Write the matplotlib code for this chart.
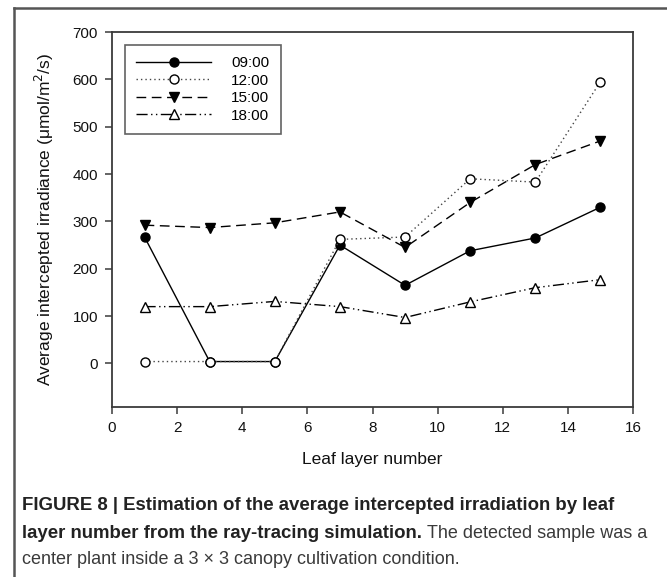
import matplotlib
matplotlib.use("Agg")
import matplotlib.pyplot as plt
from matplotlib.lines import Line2D

plt.rcParams["font.family"] = ["Liberation Sans", "DejaVu Sans"]

# data
leaf_layer = [1, 3, 5, 7, 9, 11, 13, 15]
irr_0900 = [267, 4, 4, 250, 165, 238, 265, 330]
irr_1200 = [4, 4, 4, 262, 267, 390, 383, 595]
irr_1500 = [292, 287, 297, 320, 245, 340, 420, 470]
irr_1800 = [120, 120, 131, 120, 97, 130, 160, 177]
series_labels = ["09:00", "12:00", "15:00", "18:00"]

x_ticks = [0, 2, 4, 6, 8, 10, 12, 14, 16]
y_ticks = [0, 100, 200, 300, 400, 500, 600, 700]

W, H = 667, 577
fig = plt.figure(figsize=(W / 100, H / 100), dpi=100)
ax = fig.add_axes([112 / W, 1 - 407 / H, (633 - 112) / W, (407 - 32) / H])

axis_col = "#3a3a3a"
ms = 6.5
ax.plot(leaf_layer, irr_0900, color="black", lw=1.0, ls="-",
        marker="o", ms=ms, mfc="black", mec="black", label=series_labels[0])
ax.plot(leaf_layer, irr_1200, color="#444444", lw=1.0, ls=(0, (1, 2.2)),
        marker="o", ms=ms, mfc="white", mec="black", mew=1.0, label=series_labels[1])
ax.plot(leaf_layer, irr_1500, color="black", lw=1.0, ls=(0, (7, 4)),
        marker="v", ms=ms + 0.5, mfc="black", mec="black", label=series_labels[2])
ax.plot(leaf_layer, irr_1800, color="black", lw=1.0, ls=(0, (8, 2.5, 1, 2.5, 1, 2.5)),
        marker="^", ms=ms + 0.5, mfc="white", mec="black", mew=1.0, label=series_labels[3])

ax.set_xlim(0, 16)
ax.set_ylim(-92, 700)
ax.set_xticks(x_ticks)
ax.set_yticks(y_ticks)
for sp in ax.spines.values():
    sp.set_color(axis_col)
    sp.set_linewidth(1.3)
ax.tick_params(direction="out", length=5, width=1.1, color=axis_col,
               labelsize=11, labelcolor="#111111", pad=5)

ax.set_xlabel("Leaf layer number", fontsize=12.5, color="#111111", labelpad=12)
ax.set_ylabel("Average intercepted irradiance (\u03bcmol/m$^2$/s)", fontsize=12.5,
              color="#111111", labelpad=12)

leg = ax.legend(loc="upper left", bbox_to_anchor=((125 - 112) / 521, 1 - (45 - 32) / 375),
                fontsize=11, numpoints=1, handlelength=4.9, handletextpad=1.3,
                labelspacing=0.22, borderpad=0.75, borderaxespad=0, fancybox=False,
                frameon=True, markerfirst=True)
leg.get_frame().set_edgecolor(axis_col)
leg.get_frame().set_linewidth(1.2)

# figure frame (top and left)
frame_col = "#555555"
fig.add_artist(Line2D([14 / W, 14 / W], [0, 1 - 8 / H], transform=fig.transFigure,
                      color=frame_col, lw=1.8))
fig.add_artist(Line2D([14 / W, 1], [1 - 8 / H, 1 - 8 / H], transform=fig.transFigure,
                      color=frame_col, lw=1.8))

# caption
bold_size = 13.4
reg_size = 13.0
bold_col = "#222222"
reg_col = "#3a3a3a"
x0 = 22 / W
fig.text(x0, 1 - 505 / H, "FIGURE 8 | Estimation of the average intercepted irradiation by leaf",
         fontsize=bold_size, fontweight="bold", color=bold_col, va="center")
t_bold = fig.text(x0, 1 - 533 / H, "layer number from the ray-tracing simulation.",
                  fontsize=bold_size, fontweight="bold", color=bold_col, va="center")
fig.canvas.draw()
bb = t_bold.get_window_extent()
fig.text((bb.x1 + 5) / W, 1 - 533 / H, "The detected sample was a",
         fontsize=reg_size, color=reg_col, va="center")
fig.text(x0, 1 - 560 / H, "center plant inside a 3 \u00d7 3 canopy cultivation condition.",
         fontsize=reg_size, color=reg_col, va="center")

fig.savefig("out.png", dpi=100, facecolor="white")
